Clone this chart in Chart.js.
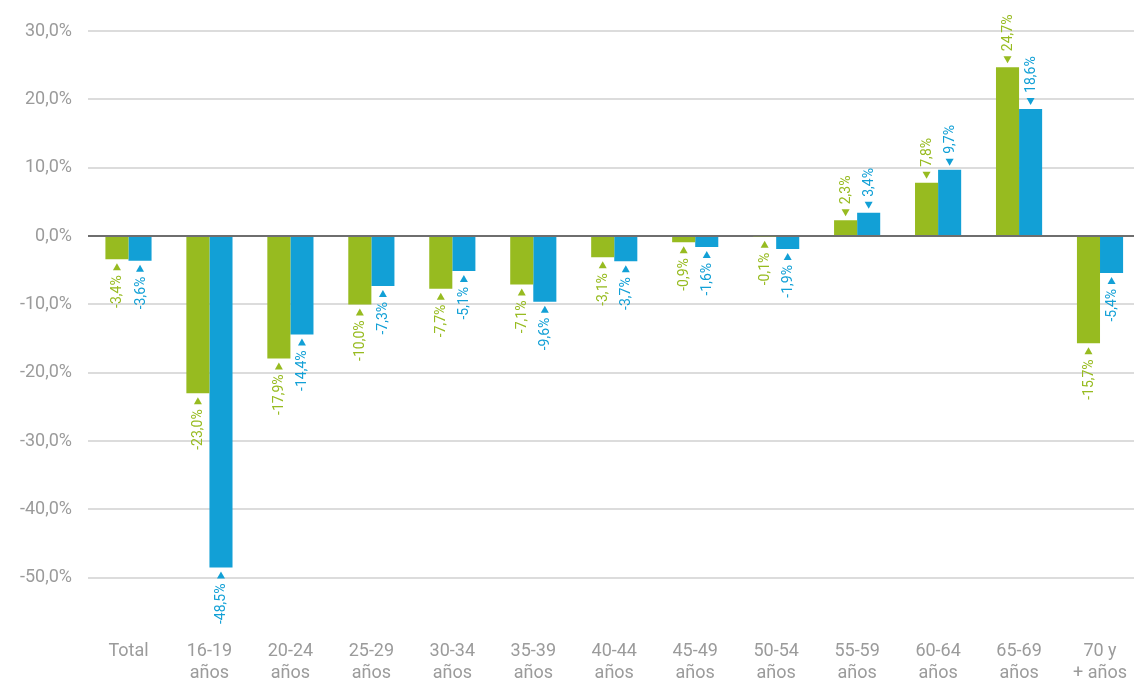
<!DOCTYPE html>
<html>
<head>
<meta charset="utf-8">
<script src="https://cdn.jsdelivr.net/npm/chart.js@4"></script>
<style>
  html, body { margin: 0; padding: 0; background: #fff; overflow: hidden; }
  canvas { display: block; }
</style>
</head>
<body>
<canvas id="chart" width="1148" height="680"></canvas>
<script>
const categories = [
    ['Total'], ['16-19', 'años'], ['20-24', 'años'], ['25-29', 'años'], ['30-34', 'años'],
    ['35-39', 'años'], ['40-44', 'años'], ['45-49', 'años'], ['50-54', 'años'],
    ['55-59', 'años'], ['60-64', 'años'], ['65-69', 'años'], ['70 y', '+ años']
];
const greenValues = [-3.4, -23.0, -17.9, -10.0, -7.7, -7.1, -3.1, -0.9, -0.1, 2.3, 7.8, 24.7, -15.7];
const blueValues = [-3.6, -48.5, -14.4, -7.3, -5.1, -9.6, -3.7, -1.6, -1.9, 3.4, 9.7, 18.6, -5.4];
const yTicks = [30, 20, 10, 0, -10, -20, -30, -40, -50];

const green = '#97bb20';
const blue = '#12a0d6';
const grey = '#9b9b9b';

function pct(v) {
    return v.toFixed(1).replace('.', ',') + '%';
}

// triangles + rotated value labels at the end of each bar
const valueLabels = {
    id: 'valueLabels',
    afterDatasetsDraw(chart) {
        const ctx = chart.ctx;
        chart.data.datasets.forEach((ds, i) => {
            const meta = chart.getDatasetMeta(i);
            meta.data.forEach((bar, j) => {
                const v = ds.data[j];
                const x = bar.x;
                const y = bar.y;
                ctx.save();
                ctx.fillStyle = ds.backgroundColor;
                ctx.beginPath();
                if (v >= 0) {
                    ctx.moveTo(x, y - 4);
                    ctx.lineTo(x - 4, y - 11);
                    ctx.lineTo(x + 4, y - 11);
                } else {
                    ctx.moveTo(x, y + 4);
                    ctx.lineTo(x - 4, y + 11);
                    ctx.lineTo(x + 4, y + 11);
                }
                ctx.closePath();
                ctx.fill();
                ctx.font = '14px Roboto';
                ctx.textBaseline = 'middle';
                ctx.translate(x, v >= 0 ? y - 16 : y + 16);
                ctx.rotate(-Math.PI / 2);
                ctx.textAlign = v >= 0 ? 'left' : 'right';
                ctx.fillText(pct(v), 0, 1);
                ctx.restore();
            });
        });
    }
};

new Chart(document.getElementById('chart'), {
    type: 'bar',
    data: {
        labels: categories,
        datasets: [
            { data: greenValues, backgroundColor: green },
            { data: blueValues, backgroundColor: blue }
        ]
    },
    options: {
        responsive: false,
        animation: false,
        datasets: {
            bar: { barPercentage: 1, categoryPercentage: 0.57 }
        },
        layout: { padding: { top: 31, right: 0, bottom: 0, left: 0 } },
        plugins: {
            legend: { display: false },
            tooltip: { enabled: false }
        },
        scales: {
            x: {
                grid: { display: false },
                border: { display: false },
                ticks: {
                    color: grey,
                    font: { family: 'Roboto', size: 18, lineHeight: 1.2 },
                    padding: 21,
                    maxRotation: 0,
                    autoSkip: false
                },
                afterFit(scale) { scale.height = 68; }
            },
            y: {
                min: -55,
                max: 30,
                afterBuildTicks(scale) {
                    scale.ticks = yTicks.map(v => ({ value: v }));
                },
                grid: {
                    color: c => c.tick && c.tick.value === 0 ? '#6e6e6e' : '#dcdcdc',
                    lineWidth: 2,
                    drawTicks: false
                },
                border: { display: false },
                ticks: {
                    color: grey,
                    font: { family: 'Roboto', size: 18 },
                    padding: 16,
                    callback: v => pct(v)
                },
                afterFit(scale) { scale.width = 88; }
            }
        }
    },
    plugins: [valueLabels]
});
</script>
</body>
</html>
